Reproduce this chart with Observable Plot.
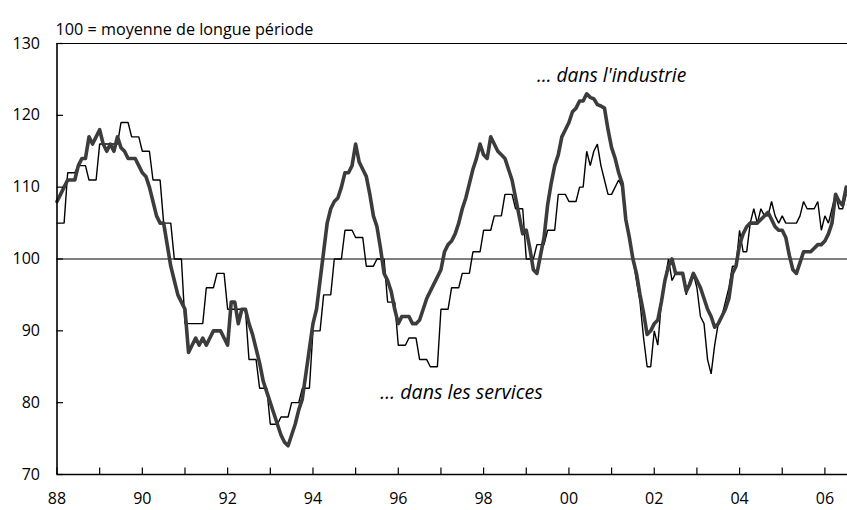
<!DOCTYPE html>
<html>
<head>
<meta charset="utf-8">
<script src="https://cdn.jsdelivr.net/npm/d3@7"></script>
<script src="https://cdn.jsdelivr.net/npm/@observablehq/plot@0.6"></script>
<style>
  body { margin: 0; background: #fff; }
</style>
</head>
<body>
<div id="chart"></div>
<script>
// ---- data ----
const startYear = 1988; // first month: January 1988, monthly series

// Climat des affaires dans l'industrie (monthly)
const industrie = [
  /*1988*/ 108,109,110,111,111,111,113,114,114,117,116,117,
  /*1989*/ 118,116,115,116,115,117,115.5,115,114,114,114,113,
  /*1990*/ 112,111.5,110,108,106,105,105,102,99,97,95,94,
  /*1991*/ 93,87,88,89,88,89,88,89,90,90,90,89,
  /*1992*/ 88,94,94,91,93,93,91,89.5,87.5,85.5,83,81.5,
  /*1993*/ 80,78.5,77,75.5,74.5,74,75.5,77,79,80.5,84,87.5,
  /*1994*/ 91,93,97,101,105,107,108,108.5,110,112,112,113,
  /*1995*/ 116,113.5,112.5,111.5,109,106,104.5,101.5,98,97,95.5,93,
  /*1996*/ 91,92,92,92,91,91,91.5,93,94.5,95.5,96.5,97.5,
  /*1997*/ 98.5,101,102,102.5,103.5,105,107,108.5,110.5,112.5,114,116,
  /*1998*/ 114.5,114,117,116,115,114.5,114,112.5,111,108.5,106,103.5,
  /*1999*/ 104,101.5,98.5,98,100.5,103,107.5,110.5,113,114.5,117,118,
  /*2000*/ 119,120.5,121,122,122,123,122.5,122.3,121.5,121.3,121,118,
  /*2001*/ 115.5,114,112,110.5,105.5,103,100,98,95,92.5,89.5,90,
  /*2002*/ 91,91.5,94,97,99,100,98,98,98,95.5,96.5,98,
  /*2003*/ 97,96,94.5,93,92,90.5,91,92,93,94.5,98,99,
  /*2004*/ 102,103.5,104.5,105,105,105,105.5,106,106.5,105.5,104.5,104,
  /*2005*/ 104,103,100.5,98.5,98,99.5,101,101,101,101.5,102,102,
  /*2006*/ 102.5,103.5,105,109,108,107.5,110
];

// Climat des affaires dans les services (monthly; quarterly survey held over the quarter until 1999)
const services = [
  /*1988*/ 105,105,105,112,112,112,113,113,113,111,111,111,
  /*1989*/ 116,116,116,116,116,116,119,119,119,117,117,117,
  /*1990*/ 115,115,115,111,111,111,105,105,105,100,100,100,
  /*1991*/ 91,91,91,91,91,91,96,96,96,98,98,98,
  /*1992*/ 93,93,93,93,93,93,86,86,86,82,82,82,
  /*1993*/ 77,77,77,78,78,78,80,80,80,82,82,82,
  /*1994*/ 90,90,90,95,95,95,100,100,100,104,104,104,
  /*1995*/ 103,103,103,99,99,99,100,100,100,94,94,94,
  /*1996*/ 88,88,88,89,89,89,86,86,86,85,85,85,
  /*1997*/ 93,93,93,96,96,96,98,98,98,101,101,101,
  /*1998*/ 104,104,104,106,106,106,109,109,109,107,107,107,
  /*1999*/ 100,100,100,102,102,102,104,104,104,109,109,109,
  /*2000*/ 108,108,108,110,110,115,113,115,116,113,111,109,
  /*2001*/ 109,110,111,110,105,103,100,97,94,89,85,85,
  /*2002*/ 90,88,94,97,100,97,98,98,98,95,97,98,
  /*2003*/ 96,92,91,86,84,88,91,92,94,96,99,99,
  /*2004*/ 104,101,101,105,107,105,107,106,106,108,106,105,
  /*2005*/ 106,105,105,105,105,106,108,107,107,107,108,104,
  /*2006*/ 106,105,107,109,107,107,109
];

const yTicks = [70, 80, 90, 100, 110, 120, 130];
const xTickYears = [1988,1989,1990,1991,1992,1993,1994,1995,1996,1997,1998,1999,2000,2001,2002,2003,2004,2005,2006];
const xLabelYears = [1988,1990,1992,1994,1996,1998,2000,2002,2004,2006];
const xLabels = ["88","90","92","94","96","98","00","02","04","06"];
const subtitle = "100 = moyenne de longue période";
const labelIndustrie = "… dans l'industrie";
const labelServices = "… dans les services";
const referenceLevel = 100;

// ---- build tables ----
const toRows = arr => arr.map((v, i) => ({t: startYear + i / 12, v}));
const rowsIndustrie = toRows(industrie);
const rowsServices = toRows(services);

const font = "'Open Sans', Lato, sans-serif";

const chart = Plot.plot({
  width: 847,
  height: 510,
  marginLeft: 56.5,
  marginRight: 0,
  marginTop: 43,
  marginBottom: 36,
  style: {fontFamily: font, fontSize: "16px", color: "#000", background: "#fff", overflow: "visible"},
  x: {domain: [1988, 2006.53]},
  y: {domain: [70, 130]},
  marks: [
    Plot.ruleY([referenceLevel], {stroke: "#000", strokeWidth: 1.2}),
    Plot.line(rowsServices, {x: "t", y: "v", stroke: "#000", strokeWidth: 1.4, strokeLinejoin: "miter"}),
    Plot.line(rowsIndustrie, {x: "t", y: "v", stroke: "#3c3c3c", strokeWidth: 3.6, strokeLinejoin: "round"}),
    Plot.ruleX([1988], {stroke: "#000", strokeWidth: 1.6}),
    Plot.ruleY([70], {stroke: "#000", strokeWidth: 1.6}),
    Plot.ruleY([130], {stroke: "#000", strokeWidth: 1.2}),
    Plot.axisX(xTickYears, {tickSize: 6.5, dy: -6.5, fill: "none", label: null, strokeWidth: 1.2}),
    Plot.axisX(xLabelYears, {tickSize: 0, tickPadding: 18.5, label: null, fontSize: 16,
      tickFormat: d => xLabels[xLabelYears.indexOf(d)]}),
    Plot.axisY(yTicks, {tickSize: 6.5, dx: 6.5, fill: "none", label: null, strokeWidth: 1.2}),
    Plot.axisY(yTicks, {tickSize: 0, tickPadding: 17, label: null, fontSize: 16}),
    Plot.text([subtitle], {frameAnchor: "top-left", textAnchor: "start", dx: -1.5, dy: -19.9, fontSize: 16.2}),
    Plot.text([labelIndustrie], {x: [1999.25], y: [125.46], text: d => d, textAnchor: "start", fontStyle: "italic", fontSize: 19.2}),
    Plot.text([labelServices], {x: [1995.58], y: [81.39], text: d => d, textAnchor: "start", fontStyle: "italic", fontSize: 19.6})
  ]
});
document.getElementById("chart").appendChild(chart);
</script>
</body>
</html>
